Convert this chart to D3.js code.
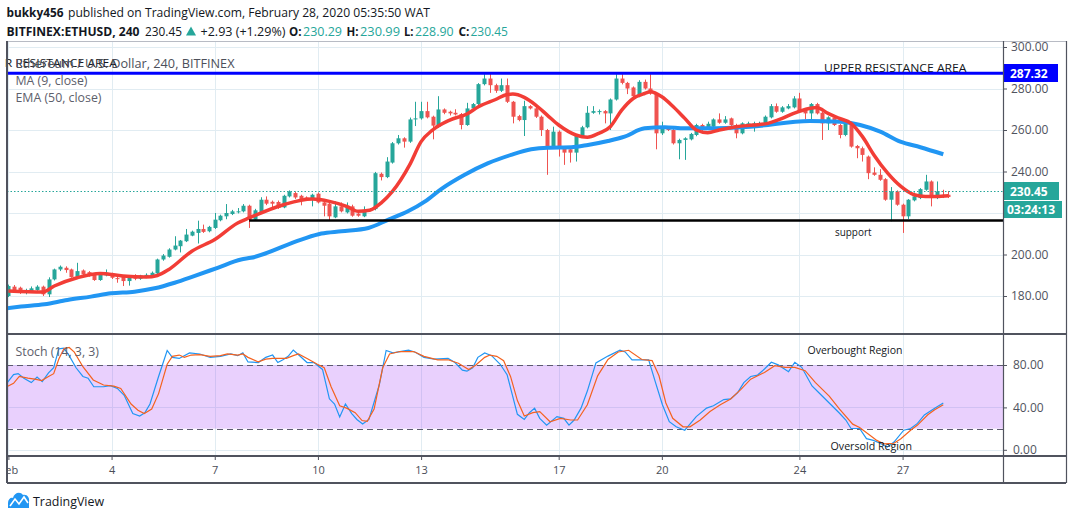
<!DOCTYPE html>
<html>
<head>
<meta charset="utf-8">
<script src="https://cdn.jsdelivr.net/npm/d3@7/dist/d3.min.js"></script>
<style>
html,body{margin:0;padding:0;background:#fff;}
svg{display:block;}
text{font-family:"Open Sans","Noto Sans",sans-serif;}
</style>
</head>
<body>
<svg id="chart" width="1073" height="520"></svg>
<script>
// ---------------- DATA ----------------
// 4-hour candles, index 0 = Feb 1 2020 00:00 UTC
const candleOpen = [180.0,184.5,184.0,181.9,182.4,182.9,184.5,180.8,188.0,192.8, 193.6,192.8,189.3,192.3,191.5,190.4,187.7,189.9,190.4,188.6, 189.6,187.2,189.9,188.3,189.1,189.6,190.9,197.6,198.9,202.4, 204.0,206.4,209.1,210.4,212.3,211.2,212.8,216.5,218.4,219.5, 220.6,220.8,223.5,216.8,220.0,226.4,225.4,225.3,222.7,228.0, 229.6,228.3,227.5,226.4,229.3,225.1,224.5,217.9,223.2,220.3, 223.2,219.7,218.4,221.9,221.9,238.9,237.3,244.3,253.6,256.0, 254.4,265.1,265.6,269.1,266.4,261.6,269.9,268.8,268.3,267.7, 262.4,270.4,272.5,282.1,284.8,281.6,278.9,281.6,273.6,266.7, 264.8,271.5,270.4,266.4,260.0,251.7,259.2,251.7,250.7,249.1, 257.1,261.3,268.3,269.0,269.1,268.0,274.7,284.8,282.7,280.5, 276.3,283.2,280.0,277.6,258.4,260.5,260.0,253.6,255.2,255.5, 257.6,262.4,260.5,261.6,265.1,263.5,265.6,262.4,258.4,262.4, 261.6,262.4,262.4,266.1,271.5,268.8,270.4,270.9,275.2,269.6, 268.0,272.5,268.3,263.2,266.1,262.4,257.6,262.9,252.3,251.2, 247.2,239.5,238.4,236.3,226.4,230.4,224.0,218.4,226.1,227.2, 231.2,235.2,227.2,228.8,228.8];
const candleHigh = [185.5,185.3,184.5,183.5,184.6,185.2,185.0,189.0,193.2,194.7, 194.3,193.2,196.0,192.8,192.0,191.0,191.0,192.8,191.2,189.6, 190.0,189.8,190.5,190.2,190.9,191.8,198.0,200.2,203.0,208.8, 207.0,212.3,211.5,216.3,214.4,213.8,220.0,219.2,224.3,221.5, 222.4,224.3,224.0,222.0,227.6,228.0,226.0,226.0,228.8,230.9, 230.4,228.8,228.0,229.3,229.9,225.6,225.0,225.6,225.1,225.1, 224.0,220.3,223.2,222.4,239.8,239.5,246.9,254.2,257.6,256.5, 266.0,273.6,273.6,273.6,266.9,276.3,270.4,269.3,270.0,268.2, 273.1,273.0,282.6,286.9,287.2,282.3,284.8,284.8,274.0,267.3, 274.1,272.0,271.0,267.0,260.5,261.6,259.8,252.2,251.2,257.6, 262.0,271.5,271.5,269.9,269.6,275.2,286.9,286.9,283.2,281.0, 284.0,284.3,286.9,278.0,264.0,261.0,260.5,255.8,256.5,258.6, 263.0,263.0,264.0,265.6,268.0,266.7,266.0,263.0,263.7,264.0, 264.0,264.0,267.0,272.5,272.8,271.5,272.5,276.3,277.9,270.0, 273.0,273.1,268.8,266.6,266.6,262.9,263.4,263.4,252.8,252.0, 247.7,242.0,241.1,236.8,232.5,230.9,224.5,226.7,229.9,232.0, 238.4,235.7,235.2,231.2,230.6];
const candleLow = [179.5,181.5,181.0,180.8,182.0,182.5,180.0,179.5,187.5,192.0, 191.2,188.8,188.8,189.8,189.3,187.3,187.3,189.5,188.2,186.4, 184.8,185.0,187.6,187.8,188.6,189.2,190.5,197.0,198.5,202.0, 201.0,206.0,208.8,205.3,210.4,210.7,212.3,216.0,217.0,219.0, 219.8,220.3,212.8,216.3,219.5,223.8,222.4,222.0,222.3,227.5, 226.8,223.7,225.8,223.2,224.6,218.4,216.5,217.5,220.3,219.8, 218.2,218.2,218.0,220.8,221.3,235.7,236.8,243.8,253.0,251.5, 253.8,261.9,265.0,265.6,255.5,261.0,267.6,267.0,267.0,260.3, 262.0,270.0,272.0,281.5,277.9,277.9,278.3,273.0,263.2,264.2, 257.1,269.9,265.8,257.1,238.4,251.0,247.2,243.2,244.3,244.8, 256.5,260.8,267.8,267.5,263.2,260.0,274.2,282.0,277.3,275.8, 275.8,279.5,277.0,250.7,257.6,259.5,253.0,245.9,245.6,255.0, 257.0,259.5,260.0,261.0,263.0,263.0,262.0,256.0,257.9,262.0, 259.2,262.0,262.0,265.6,268.3,268.3,270.0,270.4,268.3,265.1, 264.8,267.5,255.2,260.0,261.9,256.0,257.0,251.5,246.4,244.8, 236.3,237.9,235.5,225.9,216.0,223.5,210.4,217.1,225.6,226.7, 230.7,223.2,226.7,227.2,227.2];
const candleClose = [184.8,181.9,181.6,182.9,183.7,184.5,180.8,188.0,192.8,194.1, 192.5,189.1,192.0,190.4,189.9,187.7,190.4,191.2,188.8,188.4, 187.2,189.3,188.3,189.9,190.2,191.2,197.6,199.5,202.4,204.3, 206.7,209.6,211.0,212.3,210.9,213.3,216.8,218.7,220.0,220.8, 220.8,223.5,216.8,221.3,226.4,224.5,224.5,222.4,228.3,230.4, 227.5,226.4,226.4,228.8,225.1,223.5,218.4,223.2,220.8,223.2, 218.7,218.7,221.6,221.3,239.2,237.3,244.8,253.6,256.0,254.4, 265.1,265.6,269.1,266.1,262.1,269.9,268.3,268.0,267.5,262.4, 270.4,272.5,282.1,284.8,281.6,278.9,281.6,273.6,266.4,264.8, 271.5,270.4,266.4,260.0,251.2,259.2,252.0,249.1,249.1,257.1, 261.3,268.3,269.1,269.1,268.0,274.7,284.8,282.7,280.0,276.3, 283.2,280.0,277.6,258.4,260.8,260.0,253.6,255.2,256.0,258.1, 262.4,260.0,263.0,265.1,263.5,265.1,262.4,258.4,263.2,263.2, 263.2,263.2,266.4,271.5,268.8,270.9,271.5,275.2,268.8,268.0, 272.5,268.0,263.2,266.1,262.4,257.6,262.9,252.0,251.2,248.0, 239.2,238.4,236.0,226.4,230.4,224.0,218.4,226.4,228.0,231.5, 235.2,227.2,230.4,227.7,227.7];

// MA (9, close): candle index -> value
const maIndex = [0,6,8,12,16,20,24,26,28,32, 36,40,42,48,53,56,59,61,63,65, 67,70,72,74,77,80,82,85,87,88, 90,92,94,96,99,101,103,105,107,109, 111,112,114,116,118,120,122,124,127,130, 132.5,135,137,139,141,143,145,147,149,151, 153.4,155.7,158,160,162,164];
const maValue = [182.4,181.9,184.8,188.8,190.9,189.6,189.1,189.9,192.8,201.6, 207.2,215.2,217.6,224.0,226.7,225.6,223.2,220.8,221.3,224.8, 230.4,243.2,254.4,260.0,264.8,267.7,271.2,274.7,277.1,277.3, 275.7,272.0,267.2,262.4,257.6,256.5,258.4,261.6,269.6,275.2, 277.6,278.4,276.0,271.2,265.6,260.0,258.7,260.0,261.6,262.4, 263.2,265.6,268.0,269.9,270.9,268.0,265.6,263.2,256.8,248.0, 239.2,232.8,228.8,228.0,228.0,228.3];

// EMA (50, close)
const emaIndex = [-1,2.2,6.3,10.3,14.4,17.9,22,25.5,29,32.4, 36.5,40.6,42.3,51.1,54.6,58.1,62.8,66.3,69.7,72.7, 75.5,79.6,83.7,87.7,91.2,94.1,98.2,101.1,104.6,107.5, 111,114.5,118,122,129.4,139.8,145.1,148.6,152.1,155.6, 159.1,163.1];
const emaValue = [173.9,174.9,176.0,178.1,179.7,181.3,182.1,183.7,186.4,189.6, 193.6,197.6,198.4,207.2,210.1,211.2,212.8,216.8,220.8,225.6, 231.5,238.4,244.0,248.0,250.7,251.5,251.7,252.8,254.7,256.8, 260.8,261.3,260.8,260.8,261.6,264.3,264.0,262.4,259.2,254.4, 251.7,248.3];

// Stoch (14,3,3) %K and %D
const stochKIndex = [-0.3,0.9,1.7,2.7,4.0,5.0,5.9,7.0,7.9,8.8, 9.7,10.6,11.8,13.0,13.9,14.9,16.6,17.8,19.0,20.2, 21.7,22.9,23.8,24.7,26.2,27.7,28.6,29.8,31.6,33.4, 35.2,37.0,38.8,40.0,40.9,41.8,43.6,44.9,46.1,47.0, 47.9,48.8,49.7,50.9,52.1,53.3,54.8,56.0,56.9,57.8, 58.8,59.9,60.8,61.8,62.9,64.7,65.9,67.1,68.3,69.8, 71.0,72.5,74.3,76.7,77.9,79.2,80.0,81.0,81.9,83.1, 84.3,85.8,87.0,88.8,90.0,90.9,91.8,92.7,93.9,95.7, 96.9,97.8,98.7,99.9,101.0,102.5,104.6,106.7,107.6,108.8, 111.7,112.9,114.1,115.3,116.5,118.0,118.9,120.0,121.8,123.0, 124.8,126.0,127.2,128.3,129.5,130.7,131.9,133.1,134.3,136.1, 137.2,138.4,140.2,141.4,143.2,145.0,146.1,147.0,148.5,149.7, 150.9,152.1,153.3,154.5,156.2,157.4,158.6,159.8,161.6,163.1];
const stochKValue = [62.7,70.9,71.9,67.6,63.4,68.6,64.3,72.5,77.4,95.3, 95.9,88.8,77.4,69.2,67.6,59.5,59.5,60.5,57.9,51.4, 34.2,31.9,35.0,43.2,69.2,93.7,87.2,86.2,91.4,90.4, 87.2,88.2,90.4,88.8,91.4,82.9,82.3,87.2,89.4,82.3, 84.9,88.2,94.0,88.2,82.3,82.3,75.8,48.1,43.2,30.9, 43.2,34.2,28.6,24.3,28.6,61.1,93.7,91.4,92.7,94.0, 92.0,87.2,85.5,86.2,82.3,75.1,74.2,77.4,87.2,91.4, 88.8,80.7,70.9,33.5,28.6,35.0,39.3,29.7,23.3,31.3, 29.7,23.3,28.1,39.3,55.4,82.0,88.4,93.9,92.3,84.9, 84.9,63.4,42.5,26.5,21.7,18.5,24.2,31.3,39.3,41.6, 47.4,48.0,53.8,63.4,69.2,70.5,76.2,82.6,80.1,73.7, 82.6,77.8,60.2,53.8,44.2,34.5,28.1,20.1,20.1,10.5, 8.9,6.2,2.5,7.3,18.5,20.1,24.9,32.9,39.3,44.2];
const stochDIndex = [-0.3,0.9,1.9,3.4,4.6,5.8,7.0,7.9,8.8,9.7, 10.6,11.5,13.0,14.8,16.6,18.4,19.6,21.4,22.6,23.7, 25.0,26.2,27.7,28.6,29.8,30.7,31.9,33.4,35.2,37.0, 38.2,40.0,40.9,41.8,43.6,44.9,46.1,48.5,49.7,50.6, 52.1,53.9,55.1,56.3,57.8,59.0,60.5,61.7,62.6,63.8, 65.3,66.5,68.3,70.7,72.5,74.9,76.7,78.5,80.3,81.5, 83.1,84.0,85.2,86.4,87.6,88.8,90.0,91.5,92.7,94.5, 96.3,98.1,99.3,101.0,102.8,104.6,106.4,108.2,110.5,112.3, 113.5,114.7,115.9,117.7,118.9,120.7,122.4,124.2,126.0,127.8, 129.5,131.9,133.7,135.5,137.2,139.0,140.8,143.2,145.0,147.3, 148.5,150.3,151.5,152.7,154.5,155.7,157.4,158.6,160.4,161.6, 163.1];
const stochDValue = [59.5,62.7,69.2,67.6,66.6,65.3,69.2,71.8,85.6,95.5, 96.5,92.1,78.4,65.9,61.1,60.1,57.9,43.2,37.4,34.2, 38.4,53.0,80.7,88.2,89.4,87.2,89.4,89.8,88.2,88.8, 90.4,89.4,90.4,87.2,82.9,85.5,86.2,86.2,88.8,90.4, 86.2,80.7,77.4,59.5,41.6,39.3,35.0,27.6,26.9,38.4, 77.4,90.4,92.7,92.7,88.2,84.9,84.9,81.6,75.8,79.7, 87.2,89.4,88.2,84.0,69.2,46.4,31.9,35.0,36.1,26.5, 29.7,28.1,28.1,42.5,69.8,85.2,92.3,93.9,85.2,84.2, 69.8,44.2,29.7,21.7,21.7,28.1,36.1,42.5,48.0,57.0, 66.6,73.0,79.4,77.8,77.8,74.6,63.4,50.6,38.4,24.2, 21.0,13.7,8.9,5.6,6.2,10.5,18.5,23.3,33.0,37.7, 42.5];

const priceTicks = [180, 200, 220, 240, 260, 280, 300];
const stochTicks = [0, 40, 80];
const stochBands = [20, 80];
const tickDays = [1, 4, 7, 10, 13, 17, 20, 24, 27];
const tickLabels = ["Feb", "4", "7", "10", "13", "17", "20", "24", "27"];
const resistanceLevel = 287.32;
const supportLevel = 216.4;
const supportStartIndex = 42;
const lastPrice = 230.45;
const countdownText = "03:24:13";

// ---------------- LAYOUT ----------------
const svg = d3.select("#chart");
const F = {left: 7, right: 1003, outer: 1066, top: 41, pane1: 334, pane2: 456, bottom: 483};
const T0 = Date.UTC(2020, 1, 1);
const barTime = i => new Date(T0 + i * 4 * 3600 * 1000);
const dayTime = d => new Date(Date.UTC(2020, 1, d));

const x = d3.scaleUtc().domain([dayTime(1), dayTime(28)]).range([8.4, 8.4 + 27 * 34.392]);
const y = d3.scaleLinear().domain([180, 300]).range([296, 47]);
const ys = d3.scaleLinear().domain([0, 80]).range([449.8, 365]);

const UP = "#26a69a", DOWN = "#ef5350", GRID = "#e1ecf2", AXIS_TXT = "#50535e";

const defs = svg.append("defs");
function clip(id, x0, y0, w, h) {
  defs.append("clipPath").attr("id", id).append("rect").attr("x", x0).attr("y", y0).attr("width", w).attr("height", h);
}
clip("clipMain", F.left, F.top, F.right - F.left, F.pane1 - F.top);
clip("clipStoch", F.left, F.pane1, F.right - F.left, F.pane2 - F.pane1);
clip("clipAxis", F.left, F.pane2, F.right - F.left, F.bottom - F.pane2);
clip("clipNote", 5, F.top, F.right - 5, F.pane1 - F.top);

function label(g, px, py, str, o = {}) {
  const t = g.append("text").attr("x", px).attr("y", py).text(str)
    .attr("font-size", o.size || 13).attr("fill", o.fill || "#131722");
  if (o.weight) t.attr("font-weight", o.weight);
  if (o.family) t.attr("font-family", o.family);
  if (o.len) t.attr("textLength", o.len).attr("lengthAdjust", "spacingAndGlyphs");
  if (o.anchor) t.attr("text-anchor", o.anchor);
  return t;
}

// ---------------- MAIN PANE ----------------
const gMain = svg.append("g").attr("clip-path", "url(#clipMain)");
gMain.selectAll("line.hg").data(priceTicks).join("line")
  .attr("x1", F.left).attr("x2", F.right)
  .attr("y1", d => Math.round(y(d)) + 0.5).attr("y2", d => Math.round(y(d)) + 0.5)
  .attr("stroke", GRID).attr("stroke-width", 1);
gMain.selectAll("line.vg").data(tickDays).join("line")
  .attr("x1", d => Math.round(x(dayTime(d))) + 0.5).attr("x2", d => Math.round(x(dayTime(d))) + 0.5)
  .attr("y1", F.top).attr("y2", F.pane1)
  .attr("stroke", GRID).attr("stroke-width", 1);

const idx = d3.range(candleClose.length);
const colorOf = i => candleClose[i] >= candleOpen[i] ? UP : DOWN;
gMain.selectAll("line.wick").data(idx).join("line")
  .attr("x1", i => Math.round(x(barTime(i))) + 0.5)
  .attr("x2", i => Math.round(x(barTime(i))) + 0.5)
  .attr("y1", i => y(candleHigh[i])).attr("y2", i => y(candleLow[i]))
  .attr("stroke", colorOf).attr("stroke-width", 1);
gMain.selectAll("rect.body").data(idx).join("rect")
  .attr("x", i => Math.round(x(barTime(i))) - 1.5)
  .attr("width", 4)
  .attr("y", i => y(Math.max(candleOpen[i], candleClose[i])))
  .attr("height", i => Math.max(1, Math.abs(y(candleOpen[i]) - y(candleClose[i]))))
  .attr("fill", colorOf);

const seriesLine = (xs, vs, sc, curve) => d3.line()
  .x(d => x(barTime(d[0]))).y(d => sc(d[1])).curve(curve)(d3.zip(xs, vs));

gMain.append("path").attr("d", seriesLine(emaIndex, emaValue, y, d3.curveMonotoneX))
  .attr("fill", "none").attr("stroke", "#2196f3").attr("stroke-width", 4).attr("stroke-linejoin", "round");
gMain.append("path").attr("d", seriesLine(maIndex, maValue, y, d3.curveMonotoneX))
  .attr("fill", "none").attr("stroke", "#f23d36").attr("stroke-width", 3.5).attr("stroke-linejoin", "round");

// last price dotted line
gMain.append("line").attr("x1", F.left).attr("x2", F.right)
  .attr("y1", Math.round(y(lastPrice)) + 0.5).attr("y2", Math.round(y(lastPrice)) + 0.5)
  .attr("stroke", UP).attr("stroke-width", 1).attr("stroke-dasharray", "1.5,2");

// drawings
gMain.append("line").attr("x1", F.left).attr("x2", F.right)
  .attr("y1", y(resistanceLevel)).attr("y2", y(resistanceLevel))
  .attr("stroke", "#0000ff").attr("stroke-width", 3);
gMain.append("line").attr("x1", x(barTime(supportStartIndex))).attr("x2", F.right)
  .attr("y1", y(supportLevel)).attr("y2", y(supportLevel))
  .attr("stroke", "#000").attr("stroke-width", 2.6);

label(svg, 824, 71.5, "UPPER RESISTANCE AREA", {size: 11.5, family: "Liberation Sans", len: 142.5});
label(svg.append("g").attr("clip-path", "url(#clipNote)"), 117 - 142.5, 66.5, "UPPER RESISTANCE AREA", {size: 11.5, family: "Liberation Sans", len: 142.5});
label(svg, 835, 236, "support", {size: 11.5, family: "Liberation Sans", len: 36.5});

label(svg, 15.5, 67.5, "Ethereum / U.S. Dollar, 240, BITFINEX", {size: 13, fill: "#4c4f5a", len: 219});
label(svg, 15.5, 84.5, "MA (9, close)", {size: 13, fill: "#5d606b", len: 72});
label(svg, 15.5, 101.5, "EMA (50, close)", {size: 13, fill: "#5d606b", len: 86});

// ---------------- STOCH PANE ----------------
const gSt = svg.append("g").attr("clip-path", "url(#clipStoch)");
gSt.selectAll("line.hg").data(stochTicks).join("line")
  .attr("x1", F.left).attr("x2", F.right)
  .attr("y1", d => Math.round(ys(d)) + 0.5).attr("y2", d => Math.round(ys(d)) + 0.5)
  .attr("stroke", GRID);
gSt.selectAll("line.vg").data(tickDays).join("line")
  .attr("x1", d => Math.round(x(dayTime(d))) + 0.5).attr("x2", d => Math.round(x(dayTime(d))) + 0.5)
  .attr("y1", F.pane1).attr("y2", F.pane2).attr("stroke", GRID);
gSt.append("rect").attr("x", F.left).attr("width", F.right - F.left)
  .attr("y", ys(stochBands[1])).attr("height", ys(stochBands[0]) - ys(stochBands[1]))
  .attr("fill", "rgba(155,40,245,0.22)");
gSt.selectAll("line.band").data(stochBands).join("line")
  .attr("x1", F.left).attr("x2", F.right)
  .attr("y1", d => Math.round(ys(d)) + 0.5).attr("y2", d => Math.round(ys(d)) + 0.5)
  .attr("stroke", "#5d5a6e").attr("stroke-width", 1).attr("stroke-dasharray", "6,4");
gSt.append("path").attr("d", seriesLine(stochKIndex, stochKValue, ys, d3.curveLinear))
  .attr("fill", "none").attr("stroke", "#2196f3").attr("stroke-width", 1.2);
gSt.append("path").attr("d", seriesLine(stochDIndex, stochDValue, ys, d3.curveLinear))
  .attr("fill", "none").attr("stroke", "#f4621f").attr("stroke-width", 1.2);

label(svg, 15.5, 355.5, "Stoch (14, 3, 3)", {size: 13, fill: "#5d606b", len: 83.5});
label(svg, 807.5, 354, "Overbought Region", {size: 11.5, family: "Liberation Sans", len: 95});
label(svg, 830.5, 449.5, "Oversold Region", {size: 11.5, family: "Liberation Sans", len: 81.5});

// ---------------- AXES ----------------
const fmt = d3.format(".2f");
const axP = svg.append("g").attr("transform", `translate(${F.right},0)`)
  .call(d3.axisRight(y).tickValues(priceTicks).tickFormat(fmt).tickSize(4).tickPadding(4));
const axS = svg.append("g").attr("transform", `translate(${F.right},0)`)
  .call(d3.axisRight(ys).tickValues(stochTicks).tickFormat(fmt).tickSize(4).tickPadding(6));
[axP, axS].forEach(a => {
  a.select(".domain").remove();
  a.selectAll(".tick line").attr("stroke", "#50535e");
  a.selectAll(".tick text").attr("fill", AXIS_TXT).attr("font-size", 12)
    .attr("font-family", "'Open Sans', sans-serif");
});

const axT = svg.append("g").attr("transform", `translate(0,${F.pane2})`).attr("clip-path", "url(#clipAxis)")
  .call(d3.axisBottom(x).tickValues(tickDays.map(dayTime)).tickFormat((d, i) => tickLabels[i]).tickSize(4).tickPadding(6));
axT.select(".domain").remove();
axT.selectAll(".tick line").attr("stroke", "#50535e");
axT.selectAll(".tick text").attr("fill", "#4a4d57").attr("font-size", 11)
  .attr("font-family", "'Open Sans', sans-serif");
// clip path applied on translated group -> shift the clip
axT.attr("clip-path", null);
defs.append("clipPath").attr("id", "clipAxis2").append("rect")
  .attr("x", F.left).attr("y", 0).attr("width", F.right - F.left).attr("height", F.bottom - F.pane2);
axT.attr("clip-path", "url(#clipAxis2)");

// price tags
function tag(v, txt, color, w, yc) {
  svg.append("rect").attr("x", F.right).attr("y", yc - 9).attr("width", w).attr("height", 18).attr("fill", color);
  label(svg, F.right + 7, yc + 4.5, txt, {size: 12, fill: "#fff", weight: 700});
}
tag(resistanceLevel, fmt(resistanceLevel), "#0000ff", 55, Math.round(y(resistanceLevel)));
tag(lastPrice, fmt(lastPrice), UP, 56, Math.round(y(lastPrice)));
svg.append("rect").attr("x", F.right).attr("y", Math.round(y(lastPrice)) + 10).attr("width", 59).attr("height", 17).attr("fill", UP);
label(svg, F.right + 4, Math.round(y(lastPrice)) + 23, countdownText, {size: 12, fill: "#fff", weight: 700});

// ---------------- FRAME ----------------
const frame = svg.append("g").attr("fill", "none");
frame.append("line").attr("x1", F.left).attr("x2", F.outer).attr("y1", F.top + 0.5).attr("y2", F.top + 0.5).attr("stroke", "#b8bbc4");
frame.append("line").attr("x1", F.left).attr("x2", F.left).attr("y1", F.top).attr("y2", F.bottom).attr("stroke", "#50535e").attr("stroke-width", 2);
frame.append("line").attr("x1", F.right + 0.5).attr("x2", F.right + 0.5).attr("y1", F.top).attr("y2", F.bottom).attr("stroke", "#50535e").attr("stroke-width", 1.2);
frame.append("line").attr("x1", F.outer + 0.5).attr("x2", F.outer + 0.5).attr("y1", F.top).attr("y2", F.bottom).attr("stroke", "#50535e").attr("stroke-width", 1.2);
[F.pane1, F.pane2, F.bottom].forEach(v => {
  frame.append("line").attr("x1", F.left).attr("x2", F.outer).attr("y1", v).attr("y2", v).attr("stroke", "#50535e").attr("stroke-width", 2);
});

// ---------------- HEADER ----------------
label(svg, 6.5, 17, "bukky456", {weight: 700, len: 57});
label(svg, 68, 17, "published on TradingView.com, February 28, 2020 05:35:50 WAT", {len: 362});
label(svg, 6.5, 36, "BITFINEX:ETHUSD, 240", {weight: 700, len: 133});
label(svg, 145, 36, "230.45", {len: 37});
svg.append("path").attr("d", "M186,35.5 L196,35.5 L191,26.5 Z").attr("fill", UP);
label(svg, 200.5, 36, "+2.93 (+1.29%)", {len: 85});
label(svg, 289, 36, "O:", {weight: 700, len: 12.5});
label(svg, 303, 36, "230.29", {fill: UP, len: 39});
label(svg, 346.5, 36, "H:", {weight: 700, len: 12});
label(svg, 360, 36, "230.99", {fill: UP, len: 40});
label(svg, 404, 36, "L:", {weight: 700, len: 9.5});
label(svg, 415, 36, "228.90", {fill: UP, len: 38.5});
label(svg, 458.5, 36, "C:", {weight: 700, len: 11});
label(svg, 470.5, 36, "230.45", {fill: UP, len: 37.5});

// ---------------- FOOTER ----------------
svg.append("path").attr("d", "M8,508 L8,503 C8,499 11,497 13,498 C14,493 20,491 23,495 C27,494 30,498 29,502 L29,508 Z").attr("fill", "#2196f3");
svg.append("path").attr("d", "M10,506 L15,499 L19,504 L24,497 L28,503").attr("fill", "none").attr("stroke", "#fff").attr("stroke-width", 1.6);
label(svg, 33, 506, "TradingView", {size: 13, fill: "#131722", len: 71});
</script>
</body>
</html>
